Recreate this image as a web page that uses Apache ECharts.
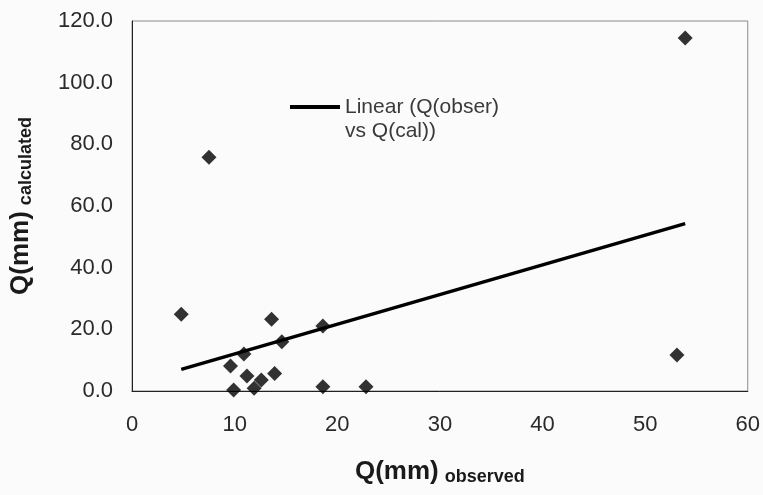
<!DOCTYPE html>
<html>
<head>
<meta charset="utf-8">
<script src="https://cdn.jsdelivr.net/npm/echarts@6/dist/echarts.min.js"></script>
<style>
html,body{margin:0;padding:0;background:#fbfbfb;}
#chart{width:763px;height:495px;}
</style>
</head>
<body>
<div id="chart"></div>
<script>
// observed vs calculated runoff
var qObserved = [4.8, 7.5, 9.6, 9.9, 10.9, 11.2, 11.9, 12.6, 13.6, 13.9, 14.6, 18.6, 18.6, 22.8, 53.1, 53.9];
var qCalculated = [24.9, 75.8, 8.1, 0.3, 12.0, 4.9, 0.9, 3.6, 23.3, 5.7, 16.0, 21.1, 1.4, 1.4, 11.7, 114.5];
// trendline end points
var trendX = [4.8, 53.9];
var trendY = [7.0, 54.3];
var trendName = 'Linear (Q(obser)\nvs Q(cal))';

var points = [];
for (var i = 0; i < qObserved.length; i++) {
    points.push([qObserved[i], qCalculated[i]]);
}
var trend = [];
for (var j = 0; j < trendX.length; j++) {
    trend.push([trendX[j], trendY[j]]);
}

var fontFam = 'Liberation Sans, Arial, sans-serif';
var titleRich = {
    b: {fontFamily: fontFam, fontSize: 26, fontWeight: 'bold', color: '#1a1a1a'},
    s: {fontFamily: fontFam, fontSize: 18, fontWeight: 'bold', color: '#1a1a1a', padding: [10, 0, 0, 6]}
};
var myChart = echarts.init(document.getElementById('chart'));
var option = {
    backgroundColor: '#fbfbfb',
    animation: false,
    grid: {
        left: 131, right: 15, top: 21, bottom: 104,
        show: true, borderColor: '#8a8a8a', borderWidth: 1
    },
    legend: {
        data: [{name: trendName, icon: 'rect'}],
        // blank first line keeps the icon level with "Linear"
        formatter: function (name) { return '\n' + name; },
        left: 285, top: 66,
        itemWidth: 50, itemHeight: 4,
        textStyle: {
            fontFamily: fontFam, fontSize: 21, color: '#3a3a3a', lineHeight: 24
        }
    },
    xAxis: {
        type: 'value', min: 0, max: 60, interval: 10,
        axisLine: {show: true, lineStyle: {color: '#222', width: 1}},
        axisTick: {show: false},
        splitLine: {show: false},
        axisLabel: {fontFamily: fontFam, fontSize: 22, color: '#2a2a2a', margin: 23},
        name: '{b|Q(mm)}{s|observed}',
        nameLocation: 'middle', nameGap: 67,
        nameTextStyle: {rich: titleRich}
    },
    yAxis: {
        type: 'value', min: 0, max: 120, interval: 20,
        axisLine: {show: true, lineStyle: {color: '#222', width: 1}},
        axisTick: {show: false},
        splitLine: {show: false},
        axisLabel: {
            fontFamily: fontFam, fontSize: 22, color: '#2a2a2a', margin: 19,
            formatter: function (v) { return v.toFixed(1); }
        },
        name: '{b|Q(mm)}{s|calculated}',
        nameLocation: 'middle', nameGap: 97,
        nameTextStyle: {rich: titleRich}
    },
    series: [
        {
            name: 'Q(obser) vs Q(cal)',
            type: 'scatter',
            data: points,
            symbol: 'path://M0,-1L1,0L0,1L-1,0Z',
            symbolSize: 15,
            itemStyle: {color: '#000'}
        },
        {
            name: trendName,
            type: 'line',
            data: trend,
            showSymbol: false,
            lineStyle: {color: '#000', width: 3.5},
            itemStyle: {color: '#000'}
        }
    ]
};
myChart.setOption(option);
</script>
</body>
</html>
